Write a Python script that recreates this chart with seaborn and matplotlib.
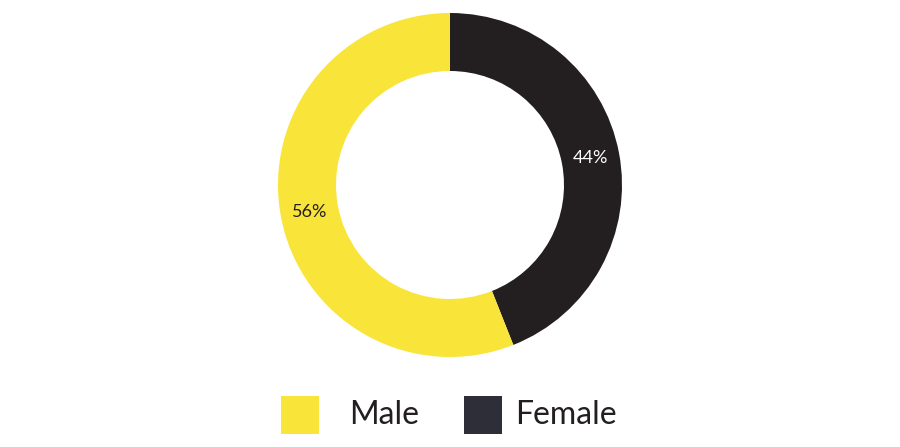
import matplotlib
matplotlib.use("Agg")
import matplotlib.pyplot as plt
from matplotlib.patches import Rectangle
import seaborn as sns

categories = ["Female", "Male"]
values = [44, 56]
wedge_colors = ["#231F20", "#F9E43A"]
legend_labels = ["Male", "Female"]
legend_colors = ["#F9E43A", "#2E2E38"]

sns.set_theme(style="white")
plt.rcParams["font.family"] = ["Lato", "DejaVu Sans"]

W, H = 900, 447
fig = plt.figure(figsize=(9, 4.47), dpi=100)
ax = fig.add_axes([0, 0, 1, 1])

cx, cy, R = 450, H - 185, 172
wedges, texts, autotexts = ax.pie(
    values, colors=wedge_colors, startangle=90, counterclock=False,
    center=(cx, cy), radius=R, frame=True,
    wedgeprops=dict(width=R - 114, linewidth=0),
    autopct=lambda p: f"{p:.0f}%", pctdistance=0.83,
    textprops=dict(fontsize=13),
)
ax.set_xlim(0, W)
ax.set_ylim(0, H)
ax.set_aspect("equal")
ax.axis("off")
autotexts[0].set_color("white")
autotexts[1].set_color("#231F20")

# legend
sq = 38
leg = [(281, 349), (464, 515)]
for (sx, tx), lab, col in zip(leg, legend_labels, legend_colors):
    ax.add_patch(Rectangle((sx, H - 434), sq, sq, facecolor=col, edgecolor="none"))
    ax.text(tx, H - 415, lab, fontsize=23, color="#231F20", va="center", ha="left")

fig.savefig("out.png", dpi=100, facecolor="white")
